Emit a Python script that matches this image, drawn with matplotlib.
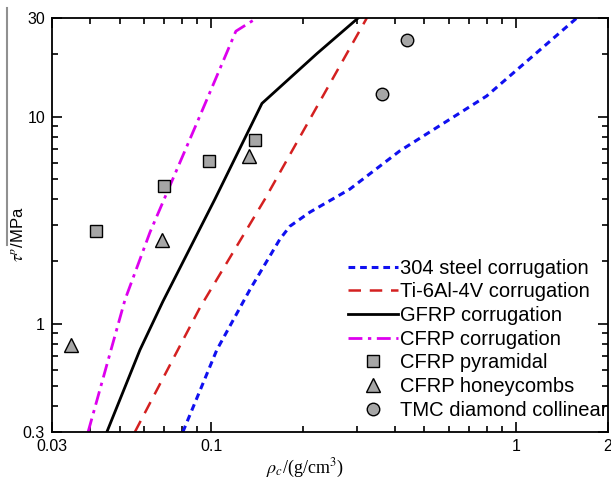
import matplotlib
matplotlib.use("Agg")
import matplotlib.pyplot as plt
from matplotlib.lines import Line2D
from matplotlib.ticker import FixedLocator, NullFormatter

plt.rcParams['font.family'] = ['Liberation Sans', 'DejaVu Sans']
plt.rcParams['mathtext.fontset'] = 'stix'

# corrugation curves (density g/cm3, strength MPa)
steel_x = [0.0806, 0.1042, 0.1337, 0.1677, 0.181, 0.2104, 0.2845, 0.415, 0.80, 1.58]
steel_y = [0.30, 0.748, 1.46, 2.56, 2.96, 3.46, 4.47, 6.84, 12.6, 30.0]

ti_x = [0.0561, 0.0917, 0.1498, 0.3235]
ti_y = [0.30, 1.196, 4.0, 30.0]

gfrp_x = [0.0454, 0.0583, 0.0693, 0.1027, 0.1465, 0.222, 0.303]
gfrp_y = [0.30, 0.748, 1.28, 4.0, 11.6, 20.2, 30.0]

cfrp_x = [0.0394, 0.0521, 0.0629, 0.0747, 0.0917, 0.1203, 0.141]
cfrp_y = [0.30, 1.31, 2.77, 5.0, 10.1, 25.9, 30.0]

# experimental points
pyr_x = [0.0418, 0.0699, 0.0981, 0.139]
pyr_y = [2.80, 4.62, 6.11, 7.73]

honey_x = [0.0346, 0.0689, 0.1327]
honey_y = [0.79, 2.53, 6.46]

tmc_x = [0.4376, 0.362]
tmc_y = [23.6, 12.9]

fig = plt.figure(figsize=(6.11, 4.82), dpi=100)
ax = fig.add_axes([52/611, 1-432/482, 556/611, 414/482])

ax.plot(steel_x, steel_y, color='#1010f0', lw=2.2, dashes=(2.2, 1.6), label='304 steel corrugation')
ax.plot(ti_x, ti_y, color='#d42020', lw=1.8, dashes=(5, 3.5), label='Ti-6Al-4V corrugation')
ax.plot(gfrp_x, gfrp_y, color='black', lw=2.0, label='GFRP corrugation')
ax.plot(cfrp_x, cfrp_y, color='#dd00ee', lw=2.0, dashes=(5, 2, 1.2, 2), label='CFRP corrugation')

mk = dict(linestyle='none', markerfacecolor='#a6a6a6', markeredgecolor='black', markeredgewidth=1.0)
ax.plot(pyr_x, pyr_y, marker='s', markersize=8, label='CFRP pyramidal', **mk)
ax.plot(honey_x, honey_y, marker='^', markersize=10, label='CFRP honeycombs', **mk)
ax.plot(tmc_x, tmc_y, marker='o', markersize=9, label='TMC diamond collinear', **mk)

ax.set_xscale('log')
ax.set_yscale('log')
ax.set_xlim(0.03, 2)
ax.set_ylim(0.3, 30)

ax.xaxis.set_major_locator(FixedLocator([0.03, 0.1, 1, 2]))
ax.xaxis.set_minor_locator(FixedLocator([0.04, 0.05, 0.06, 0.07, 0.08, 0.09,
                                         0.2, 0.3, 0.4, 0.5, 0.6, 0.7, 0.8, 0.9]))
ax.set_xticklabels(['0.03', '0.1', '1', '2'])
ax.yaxis.set_major_locator(FixedLocator([0.3, 1, 10, 30]))
ax.yaxis.set_minor_locator(FixedLocator([0.4, 0.5, 0.6, 0.7, 0.8, 0.9,
                                         2, 3, 4, 5, 6, 7, 8, 9, 20]))
ax.set_yticklabels(['0.3', '1', '10', '30'])
ax.xaxis.set_minor_formatter(NullFormatter())
ax.yaxis.set_minor_formatter(NullFormatter())

ax.tick_params(which='both', direction='in', top=True, right=True, labelsize=11.5, width=1.2)
ax.tick_params(which='major', length=7, pad=5)
ax.tick_params(which='minor', length=4.5)
for s in ax.spines.values():
    s.set_linewidth(1.3)

fig.text(305/611, 1-468/482, r'$\rho_c$/(g/cm$^3$)', ha='center', va='center',
         fontsize=13, family='Liberation Serif')
fig.text(18/611, 1-234/482, r'$\tau^p$/MPa', ha='center', va='center', rotation=90, fontsize=12)
fig.add_artist(Line2D([7/611, 7/611], [1-8/482, 1-245/482], color='#909090', lw=1.5))

ax.legend(loc='lower right', bbox_to_anchor=(1.0, 0.03), frameon=False, fontsize=14.5,
          handlelength=2.5, handletextpad=0.1, labelspacing=0.23, borderpad=0, borderaxespad=0)

fig.savefig('out.png', dpi=100)
